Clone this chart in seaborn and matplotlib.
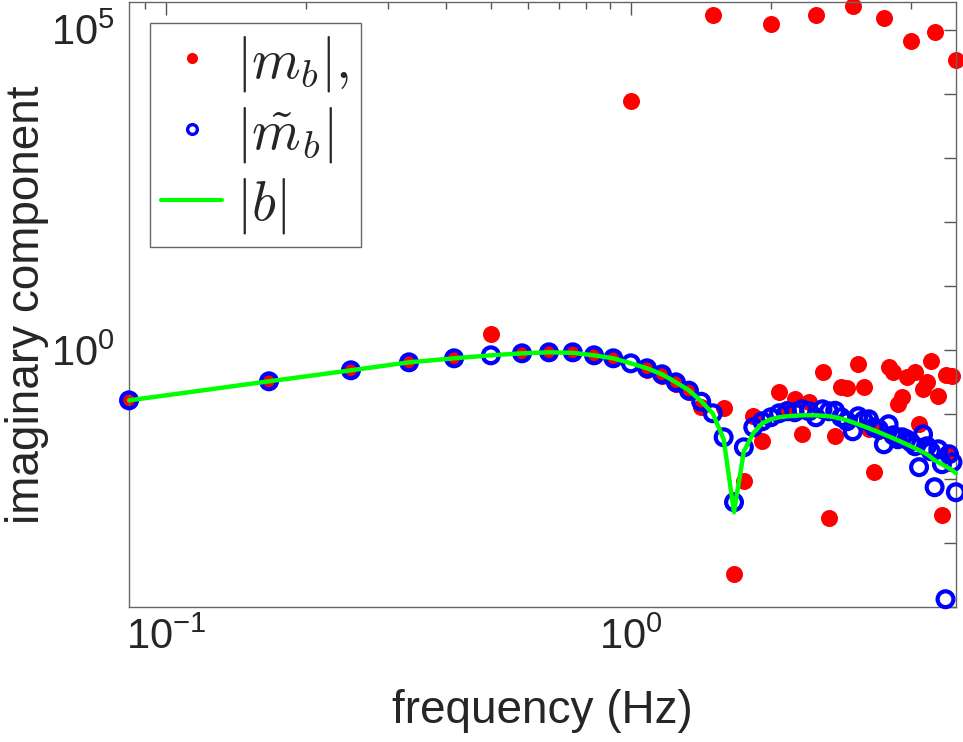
import numpy as np
import pandas as pd
import seaborn as sns
import matplotlib.pyplot as plt
from matplotlib.lines import Line2D
from matplotlib.ticker import FixedLocator, FuncFormatter, NullFormatter

# frequencies: k/12 Hz, k = 1..60
freq = np.arange(1, 61) / 12

# |b| (green line)
b_abs = [0.166, 0.329, 0.488, 0.650, 0.751, 0.836, 0.898, 0.931, 0.914, 0.836,
         0.751, 0.627, 0.525, 0.423, 0.317, 0.238, 0.161, 0.1044, 0.0411, 0.0030,
         0.0267, 0.0509, 0.0730, 0.0842, 0.0905, 0.0938, 0.0955, 0.0972, 0.0972, 0.0972,
         0.0955, 0.0938, 0.0905, 0.0857, 0.0812, 0.0755, 0.0704, 0.0655, 0.0610, 0.0567,
         0.0528, 0.0491, 0.0457, 0.0426, 0.0396, 0.0369, 0.0343, 0.0320, 0.0298, 0.0277,
         0.0258, 0.0240, 0.0216, 0.0194, 0.0180, 0.0168, 0.0156, 0.0145, 0.0135, 0.0121]

# |m~_b| (blue circles)
m_tilde = [0.166, 0.329, 0.488, 0.650, 0.751, 0.836, 0.898, 0.931, 0.931, 0.836,
           0.751, 0.627, 0.525, 0.423, 0.317, 0.235, 0.158, 0.1044, 0.0441, 0.00429,
           0.0308, 0.0632, 0.0784, 0.0905, 0.1044, 0.1121, 0.1082, 0.1205, 0.1121, 0.0905,
           0.1205, 0.1121, 0.1142, 0.0905, 0.0784, 0.0547, 0.0938, 0.0812, 0.0842, 0.0632,
           0.0588, 0.0343, 0.0704, 0.0474, 0.0411, 0.0441, 0.0411, 0.0369, 0.0320, 0.0151,
           0.0491, 0.0320, 0.0267, 0.00735, 0.0287, 0.0168, 0.000132, 0.0240, 0.0180, 0.00614]

# |m_b| (red dots)
m_raw = [0.166, 0.329, 0.488, 0.627, 0.751, 1.775, 0.898, 0.898, 0.898, 0.806,
         0.724, 7560, 0.488, 0.394, 0.295, 0.222, 0.1295, 1.71e5, 0.125, 0.000324,
         0.00912, 0.0938, 0.0383, 1.20e5, 0.222, 0.1205, 0.1725, 0.0491, 0.155, 1.71e5,
         0.454, 0.00242, 0.0457, 0.265, 0.256, 2.31e5, 0.605, 0.265, 0.0588, 0.0126,
         0.0547, 1.52e5, 0.543, 0.454, 0.144, 0.185, 0.380, 6.58e4, 0.454, 0.0704,
         0.247, 0.317, 0.674, 9.2e4, 0.192, 0.00269, 0.408, 0.0240, 0.394, 3.32e4]

df = pd.DataFrame({'freq': freq, 'm': m_raw, 'mt': m_tilde, 'b': b_abs})

sns.set_theme(style='white')
plt.rcParams['font.family'] = ['Liberation Sans', 'DejaVu Sans']
plt.rcParams['mathtext.fontset'] = 'cm'

fig = plt.figure(figsize=(9.63, 7.42), dpi=100)
ax = fig.add_axes([0.134, 0.182, 0.8586, 0.8155])

sns.scatterplot(data=df, x='freq', y='m', ax=ax, color='red', s=150,
                linewidth=0, zorder=2, clip_on=False)
sns.scatterplot(data=df, x='freq', y='mt', ax=ax, facecolor='none',
                edgecolor='blue', s=130, linewidth=3, zorder=3, clip_on=False)
sns.lineplot(data=df, x='freq', y='b', ax=ax, color='#00ff00', linewidth=3.2,
             zorder=4, clip_on=False)

ax.set_xscale('log')
ax.set_yscale('log')
ax.set_xlim(1 / 12, 5)
ax.set_ylim(1e-4, 2.7e5)

# ticks
ax.xaxis.set_major_locator(FixedLocator([0.1, 1]))
ax.xaxis.set_minor_locator(FixedLocator([0.09, 0.2, 0.3, 0.4, 0.5, 0.6, 0.7, 0.8, 0.9, 2, 3, 4]))
ax.xaxis.set_major_formatter(FuncFormatter(
    lambda v, p: r'$\mathdefault{10^{%d}}$' % round(np.log10(v))))
ax.xaxis.set_minor_formatter(NullFormatter())

ax.yaxis.set_major_locator(FixedLocator([10.0 ** e for e in range(-4, 6)]))
ax.yaxis.set_minor_locator(FixedLocator([]))
ax.yaxis.set_major_formatter(FuncFormatter(
    lambda v, p: r'$\mathdefault{10^{%d}}$' % round(np.log10(v))
    if round(np.log10(v)) in (0, 5) else ''))

ax.tick_params(which='both', direction='in', top=True, right=True,
               color='#555555', width=1, labelsize=30, labelcolor='#262626')
ax.tick_params(which='major', length=9)
ax.tick_params(which='minor', length=5)
ax.tick_params(axis='x', pad=8)
ax.tick_params(axis='y', pad=10)

for sp in ax.spines.values():
    sp.set_color('#666666')
    sp.set_linewidth(1)

ax.set_xlabel('frequency (Hz)', fontsize=33, color='#262626', labelpad=22)
ax.set_ylabel('imaginary component', fontsize=33, color='#262626', labelpad=2)

handles = [
    Line2D([], [], ls='none', marker='o', color='red', markersize=8, markeredgewidth=0),
    Line2D([], [], ls='none', marker='o', mfc='none', mec='blue', markersize=7, mew=2.4),
    Line2D([], [], color='#00ff00', lw=3),
]
labels = [r'$|m_b|,$', r'$|\tilde{m}_b|$', r'$|b|$']
leg = ax.legend(handles, labels, loc='upper left', bbox_to_anchor=(0.0254, 0.965),
                borderaxespad=0, fontsize=40, frameon=True, fancybox=False,
                framealpha=1, edgecolor='#666666', handlelength=1.1,
                handletextpad=0.25, labelspacing=0.2, borderpad=0.2)
leg.get_frame().set_linewidth(1)

plt.savefig('out.png', dpi=100)
